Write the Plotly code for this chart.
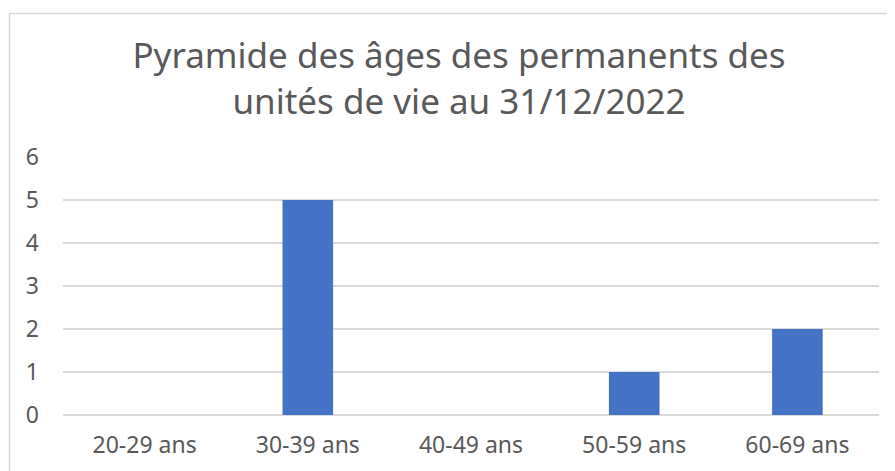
import plotly.graph_objects as go

categories = ["20-29 ans", "30-39 ans", "40-49 ans", "50-59 ans", "60-69 ans"]
values = [0, 5, 0, 1, 2]
y_ticks = [0, 1, 2, 3, 4, 5, 6]
title_text = "Pyramide des âges des permanents des<br>unités de vie au 31/12/2022"

OFF = 8  # default page body margin
W, H = 895 - OFF, 471 - OFF
L, R, T, B = 63 - OFF, 16, 157 - OFF, 56
pw = W - L - R
ph = H - T - B

def px_x(px):
    return (px - OFF - L) / pw

def px_y(py):
    return (H - B - (py - OFF)) / ph

fig = go.Figure(
    go.Bar(
        x=categories,
        y=values,
        marker=dict(color="#4472C4", line=dict(width=0)),
        width=0.31,
    )
)

fig.update_layout(
    width=W,
    height=H,
    margin=dict(l=L, r=R, t=T, b=B),
    paper_bgcolor="white",
    plot_bgcolor="white",
    showlegend=False,
    font=dict(family="Noto Sans", color="#595959"),
    title=dict(
        text=title_text,
        x=(459 - OFF) / W,
        xanchor="center",
        y=1 - 60 / H,
        yanchor="top",
        font=dict(size=35, color="#595959", family="Noto Sans"),
    ),
    xaxis=dict(
        showgrid=False,
        showline=False,
        ticks="",
        tickfont=dict(size=23, color="#595959"),
        ticklabelstandoff=14,
    ),
    yaxis=dict(
        range=[0, 6],
        tickvals=y_ticks,
        showgrid=True,
        gridcolor="#d9d9d9",
        gridwidth=1.5,
        zeroline=True,
        zerolinecolor="#d9d9d9",
        zerolinewidth=1.5,
        showline=False,
        ticks="",
        tickfont=dict(size=23, color="#595959"),
        ticklabelstandoff=23,
    ),
    shapes=[
        dict(
            type="rect",
            xref="paper",
            yref="paper",
            x0=px_x(9.5),
            x1=px_x(905),
            y0=px_y(480),
            y1=px_y(13.5),
            line=dict(color="#d9d9d9", width=1.5),
            fillcolor="rgba(0,0,0,0)",
            layer="below",
        )
    ],
)

fig.write_html("out.html")
